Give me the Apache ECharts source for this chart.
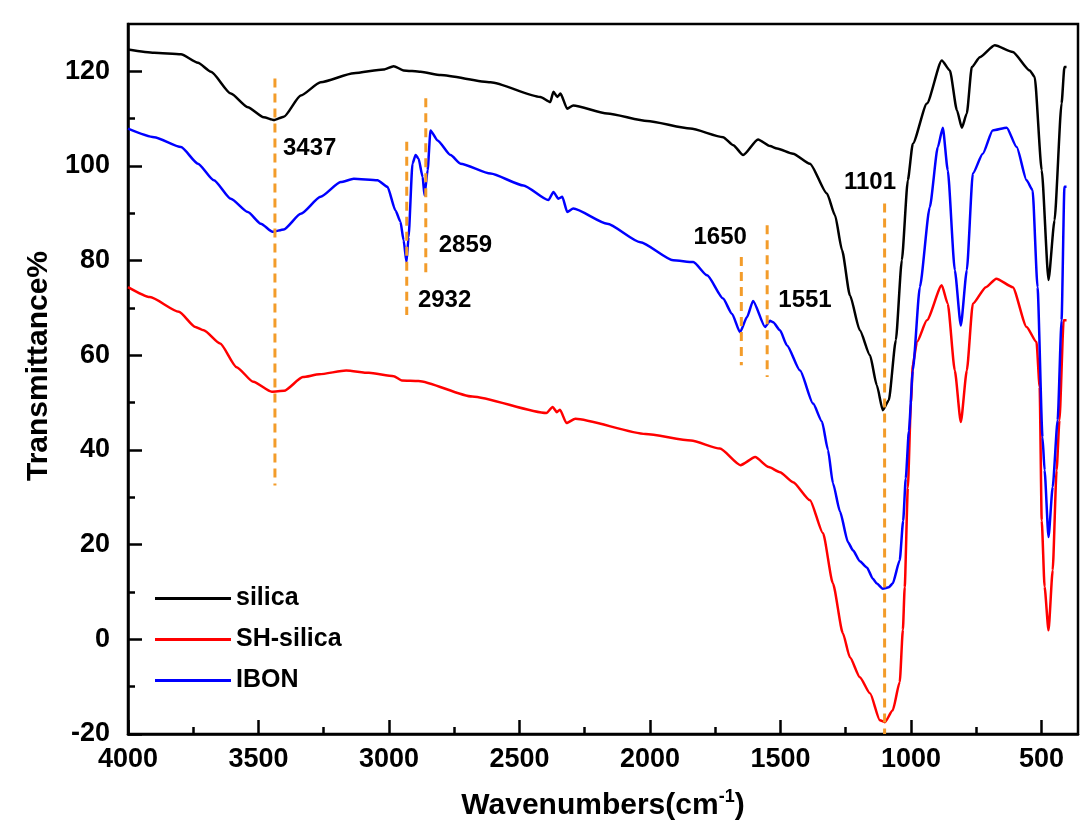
<!DOCTYPE html>
<html>
<head>
<meta charset="utf-8">
<title>FTIR spectra</title>
<script src="https://cdn.jsdelivr.net/npm/echarts@6/dist/echarts.min.js"></script>
<style>
  html, body { margin: 0; padding: 0; background: #fff; }
  #chart { width: 1088px; height: 834px; }
</style>
</head>
<body>
<div id="chart"></div>
<script>
  // spectra, [wavenumber, transmittance]
  var silica = [[4000,124.6],[3900,123.9],[3797,123.6],[3732,121.8],[3682,119.9],[3606,115.3],[3541,112.4],[3480,110.3],[3441,109.7],[3403,110.4],[3338,114.9],[3262,117.7],[3135,119.6],[3021,120.4],[2982,121.1],[2944,120.2],[2879,119.9],[2802,119.2],[2611,117.7],[2420,114.6],[2382,113.5],[2370,115.7],[2355,114.6],[2343,115.3],[2317,112.1],[2294,112.8],[2164,111.1],[2011,109.5],[1846,107.9],[1720,106.1],[1681,104.4],[1643,102.3],[1586,105.6],[1540,104.2],[1513,103.7],[1452,102.6],[1387,100.5],[1322,94.2],[1291,89.6],[1264,82.2],[1234,72.7],[1196,65.3],[1157,60.0],[1131,53.7],[1108,48.4],[1085,50.5],[1058,63.2],[1035,80.1],[1012,97.0],[993,104.7],[939,113.2],[882,122.3],[851,120.2],[824,111.8],[805,108.1],[786,111.1],[767,120.9],[736,123.0],[679,125.5],[610,124.1],[545,120.2],[526,118.8],[499,99.1],[473,75.9],[450,88.5],[423,113.2],[412,120.9],[404,120.9]];
  var shSilica = [[4000,74.4],[3916,72.3],[3805,69.2],[3742,66.0],[3710,65.3],[3647,62.5],[3584,57.5],[3520,54.4],[3449,52.3],[3402,52.5],[3330,55.4],[3267,56.0],[3164,56.8],[3077,56.3],[2982,55.6],[2951,54.7],[2887,54.6],[2681,51.3],[2397,47.8],[2373,49.1],[2357,48.0],[2345,48.5],[2320,45.7],[2286,46.6],[2017,43.4],[1843,42.0],[1732,40.3],[1653,36.8],[1597,38.5],[1545,36.4],[1502,35.3],[1452,33.2],[1387,29.4],[1337,22.4],[1299,11.8],[1261,1.3],[1234,-3.8],[1196,-8.0],[1157,-11.4],[1119,-17.1],[1100,-17.5],[1070,-15.0],[1043,-9.0],[1031,2.0],[1024,11.0],[1012,32.0],[1000,50.0],[993,58.0],[977,62.8],[939,67.4],[882,74.8],[859,70.9],[832,56.8],[809,45.9],[786,56.8],[763,70.9],[713,74.4],[673,76.2],[610,74.4],[557,66.0],[519,62.8],[507,53.3],[499,25.1],[488,11.1],[473,1.9],[457,14.6],[442,35.7],[431,46.3],[415,67.4],[404,67.4]];
  var ibon = [[4000,107.9],[3900,106.1],[3797,104.0],[3732,100.5],[3671,97.0],[3606,93.1],[3541,90.3],[3491,87.8],[3446,86.1],[3403,86.6],[3338,89.9],[3262,93.5],[3185,96.6],[3135,97.3],[3044,97.0],[3006,95.6],[2975,90.6],[2956,88.2],[2944,84.3],[2933,79.7],[2925,85.0],[2910,100.5],[2898,102.3],[2887,101.6],[2871,97.7],[2864,93.8],[2852,99.1],[2841,107.5],[2814,105.4],[2764,102.3],[2726,100.5],[2611,98.4],[2485,95.9],[2389,92.8],[2370,94.5],[2351,93.1],[2336,93.5],[2317,90.3],[2294,91.0],[2164,87.8],[2037,83.9],[1911,80.1],[1834,79.7],[1781,76.9],[1720,72.0],[1686,68.8],[1655,64.9],[1628,68.1],[1605,71.5],[1559,66.0],[1540,67.3],[1528,67.0],[1502,65.3],[1475,62.1],[1425,56.8],[1375,49.8],[1341,46.0],[1318,40.0],[1299,33.0],[1272,27.0],[1241,20.5],[1222,18.8],[1196,16.5],[1169,15.2],[1146,12.8],[1131,11.8],[1108,10.7],[1085,11.0],[1070,11.8],[1043,16.7],[1030,25.0],[1020,34.0],[1008,44.0],[993,56.8],[966,74.4],[928,91.3],[897,104.0],[878,108.1],[859,99.1],[832,78.0],[809,66.3],[786,78.0],[763,98.4],[725,102.6],[687,107.5],[633,108.1],[595,104.0],[557,97.0],[534,94.9],[515,74.4],[496,42.7],[488,35.7],[473,21.6],[457,32.2],[438,46.3],[423,67.4],[412,95.6],[404,95.6]];

  var seriesNames = ['silica', 'SH-silica', 'IBON'];
  var seriesColors = ['#000000', '#ff0000', '#0000ff'];

  // peak markers: wavenumber, dash top, dash bottom
  var peakWn = [3437, 2932, 2859, 1650, 1551, 1101];
  var peakTop = [118.5, 105.1, 114.3, 80.8, 87.5, 92.1];
  var peakBottom = [32.5, 68.5, 76.9, 57.9, 55.4, -20];
  // label anchors [wavenumber, transmittance]
  var peakLabelPos = [[3304,103.7],[2787,71.6],[2707,83.2],[1731,84.9],[1406,71.6],[1157,96.6]];

  var xMajor = [500, 1000, 1500, 2000, 2500, 3000, 3500, 4000];
  var xMinor = [750, 1250, 1750, 2250, 2750, 3250, 3750];
  var yMajor = [-20, 0, 20, 40, 60, 80, 100, 120];
  var yMinor = [-10, 10, 30, 50, 70, 90, 110];

  var FONT = "'Liberation Sans', Arial, sans-serif";
  var chart = echarts.init(document.getElementById('chart'));

  var series = [silica, shSilica, ibon].map(function (d, i) {
    return {
      name: seriesNames[i], type: 'line', data: d,
      symbol: 'none', smooth: 0.2, smoothMonotone: 'x',
      lineStyle: { color: seriesColors[i], width: 2.5 },
      itemStyle: { color: seriesColors[i] },
      z: 3
    };
  });

  peakWn.forEach(function (wn, i) {
    series.push({
      type: 'line', data: [[wn, peakTop[i]], [wn, peakBottom[i]]],
      symbol: 'none', silent: true, z: 4,
      lineStyle: { color: '#f39c2a', width: 3, type: [9, 6] }
    });
  });

  series.push({
    type: 'scatter', symbolSize: 0, silent: true, z: 5,
    itemStyle: { opacity: 1 },
    data: peakLabelPos.map(function (p, i) { return [p[0], p[1], String(peakWn[i])]; }),
    label: {
      show: true, position: 'inside', color: '#000', opacity: 1,
      fontFamily: FONT, fontWeight: 'bold', fontSize: 24,
      formatter: function (p) { return p.value[2]; }
    }
  });

  var option = {
    backgroundColor: '#ffffff',
    animation: false,
    grid: { left: 128, right: 10, top: 24, bottom: 100, show: true, borderColor: '#000', borderWidth: 2.5 },
    legend: {
      data: seriesNames, orient: 'vertical', left: 150, top: 581,
      icon: 'rect', itemWidth: 76, itemHeight: 3, itemGap: 16,
      textStyle: { fontFamily: FONT, fontWeight: 'bold', fontSize: 25, color: '#000' }
    },
    xAxis: [{
      type: 'value', inverse: true, min: 360, max: 4000,
      name: 'Wavenumbers(cm{sup|-1})', nameLocation: 'middle', nameGap: 54,
      nameTextStyle: {
        fontFamily: FONT, fontWeight: 'bold', fontSize: 30, color: '#000',
        rich: { sup: { fontFamily: FONT, fontWeight: 'bold', fontSize: 18, verticalAlign: 'top', padding: [0, 0, 18, 0], color: '#000' } }
      },
      axisLine: { onZero: false, lineStyle: { color: '#000', width: 2.5 } },
      axisTick: { inside: true, length: 14, lineStyle: { width: 2.5, color: '#000' }, customValues: xMajor },
      axisLabel: {
        customValues: xMajor, margin: 12, fontFamily: FONT, fontWeight: 'bold', fontSize: 27, color: '#000',
        formatter: function (v) { return String(v); }
      },
      splitLine: { show: false }
    }, {
      type: 'value', inverse: true, min: 360, max: 4000, position: 'bottom',
      axisLine: { show: false, onZero: false },
      axisTick: { inside: true, length: 7, lineStyle: { width: 2.5, color: '#000' }, customValues: xMinor },
      axisLabel: { show: false }, splitLine: { show: false }
    }],
    yAxis: [{
      type: 'value', min: -20, max: 130,
      name: 'Transmittance%', nameLocation: 'middle', nameGap: 74,
      nameTextStyle: { fontFamily: FONT, fontWeight: 'bold', fontSize: 30, color: '#000', padding: [0, 0, 0, 26] },
      axisLine: { show: true, onZero: false, lineStyle: { color: '#000', width: 2.5 } },
      axisTick: { show: true, inside: true, length: 14, lineStyle: { width: 2.5, color: '#000' }, customValues: yMajor },
      axisLabel: { customValues: yMajor, margin: 18, fontFamily: FONT, fontWeight: 'bold', fontSize: 27, color: '#000' },
      splitLine: { show: false }
    }, {
      type: 'value', min: -20, max: 130, position: 'left',
      axisLine: { show: false, onZero: false },
      axisTick: { show: true, inside: true, length: 7, lineStyle: { width: 2.5, color: '#000' }, customValues: yMinor },
      axisLabel: { show: false }, splitLine: { show: false }
    }],
    series: series
  };
  chart.setOption(option);

  window.onresize = function () { chart.resize(); };
</script>
</body>
</html>
